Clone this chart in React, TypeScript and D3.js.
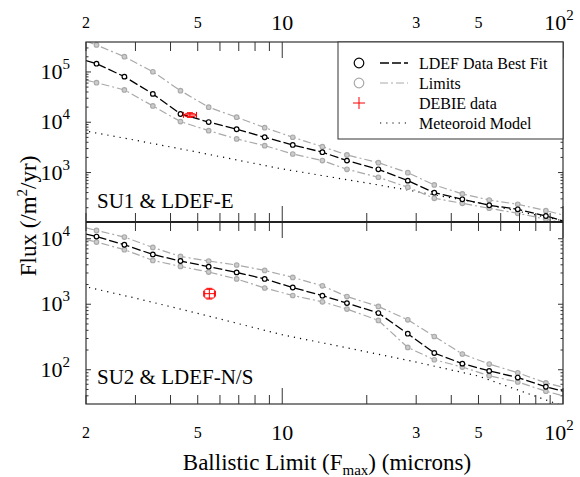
import * as d3 from 'd3';

// ballistic limit (microns) shared by both panels; first/last are the frame edges
const ballistic = [2, 2.18, 2.74, 3.46, 4.34, 5.47, 6.88, 8.66, 10.9, 13.9, 17.0, 22.0, 28.0, 34.8, 43.8, 54.6, 69.0, 86.9, 100];

const su1Fit = [1.68e5, 1.46e5, 8.07e4, 3.66e4, 1.46e4, 1.01e4, 7.26e3, 5.03e3, 3.54e3, 2.54e3, 1.73e3, 1.16e3, 690, 398, 294, 224, 186, 137, 109];
const su1Upper = [4.1e5, 3.44e5, 2.01e5, 1.01e5, 4.25e4, 1.99e4, 1.26e4, 7.81e3, 5.03e3, 3.27e3, 2.24e3, 1.57e3, 995, 567, 376, 285, 234, 175, 143];
const su1Lower = [6.9e4, 6.13e4, 4.39e4, 2.11e4, 1.03e4, 6.81e3, 4.66e3, 3.43e3, 2.34e3, 1.73e3, 1.16e3, 807, 511, 308, 245, 195, 155, 118, 100];

const su2Fit = [1.18e4, 1.08e4, 8.09e3, 5.75e3, 4.57e3, 3.74e3, 3.06e3, 2.43e3, 1.80e3, 1.35e3, 1.04e3, 734, 355, 180, 124, 96, 76, 55, 47];
const su2Upper = [1.46e4, 1.34e4, 1.06e4, 7.36e3, 5.37e3, 4.57e3, 3.97e3, 3.28e3, 2.57e3, 1.91e3, 1.31e3, 925, 579, 322, 174, 122, 90, 63, 54];
const su2Lower = [9.7e3, 8.9e3, 6.8e3, 4.67e3, 3.78e3, 3.1e3, 2.43e3, 1.77e3, 1.36e3, 1.09e3, 845, 566, 219, 142, 110, 81, 65, 47, 40];

// meteoroid model
const meteorX = [2.05, 3, 5, 10, 20, 30, 50, 100];
const su1Meteor = [6.5e3, 4.4e3, 2.54e3, 1.18e3, 621, 420, 250, 110];
const su2Meteor = [1.8e3, 1.24e3, 726, 342, 188, 131, 80, 28];

// DEBIE: [x, xlo, xhi, y, ylo, yhi]
const su1Debie = [4.69, 4.45, 4.95, 1.4e4, 1.25e4, 1.55e4];
const su2Debie = [5.5, 5.25, 5.78, 1.45e3, 1.2e3, 1.75e3];

const xTickLabels = [
  { v: 2, t: '2', big: false },
  { v: 5, t: '5', big: false },
  { v: 10, t: '10', big: true },
  { v: 30, t: '3', big: false },
  { v: 50, t: '5', big: false },
  { v: 100, t: '10', sup: '2', big: true },
];
const su1Decades = [1e3, 1e4, 1e5];
const su2Decades = [1e2, 1e3, 1e4];
const legendItems = ['LDEF Data Best Fit', 'Limits', 'DEBIE data', 'Meteoroid Model'];

const W = 580, H = 477;
const left = 86, right = 563, top = 42, mid = 222, bottom = 404;
const font = "'Liberation Serif', 'Times New Roman', 'DejaVu Serif', serif";
const gray = '#a9a9a9';

const x = d3.scaleLog().domain([2, 100]).range([left, right]);
const xMinor = d3.range(2, 10).concat(d3.range(20, 100, 10));

function Panel({ id, y, fit, upper, lower, meteor, debie, decades, label, labelY }: any) {
  const line = d3.line<number>().x((_, i) => x(ballistic[i])).y(d => y(d));
  const mline = d3.line<number>().x((_, i) => x(meteorX[i])).y(d => y(d));
  const [y0, y1] = y.range();
  const dom = y.domain();
  const minor: number[] = [];
  for (let e = Math.floor(Math.log10(dom[0])); e <= Math.ceil(Math.log10(dom[1])); e++) {
    for (let k = 2; k < 10; k++) {
      const v = k * Math.pow(10, e);
      if (v > dom[0] && v < dom[1]) minor.push(v);
    }
  }
  const inner = ballistic.slice(1, -1);
  const [dx, dxl, dxh, dy, dyl, dyh] = debie;
  return (
    <g>
      <defs>
        <clipPath id={id}>
          <rect x={left} y={y1} width={right - left} height={y0 - y1} />
        </clipPath>
      </defs>
      <g clipPath={`url(#${id})`}>
        <path d={mline(meteor) || ''} fill="none" stroke="#000" strokeWidth={1.2} strokeDasharray="1.2,5" />
        {[upper, lower].map((s, k) => (
          <g key={k}>
            <path d={line(s) || ''} fill="none" stroke={gray} strokeWidth={1.2} strokeDasharray="8,3,2,3" />
            {s.slice(1, -1).map((v: number, i: number) => (
              <circle key={i} cx={x(inner[i])} cy={y(v)} r={2.3} fill="#ccc" stroke={gray} strokeWidth={1.1} />
            ))}
          </g>
        ))}
        <path d={line(fit) || ''} fill="none" stroke="#000" strokeWidth={1.3} strokeDasharray="9,3" />
        {fit.slice(1, -1).map((v: number, i: number) => (
          <circle key={i} cx={x(inner[i])} cy={y(v)} r={2.3} fill="#fff" stroke="#000" strokeWidth={1.2} />
        ))}
      </g>
      {/* DEBIE point */}
      <g stroke="#ff0000" strokeWidth={1} fill="none">
        <rect x={x(dxl) + 1} y={y(dyh) + 1} width={x(dxh) - x(dxl) - 2} height={y(dyl) - y(dyh) - 2} rx={1} />
        <line x1={x(dxl)} x2={x(dxh)} y1={y(dy)} y2={y(dy)} />
        <line x1={x(dx)} x2={x(dx)} y1={y(dyh)} y2={y(dyl)} />
        <line x1={x(dxl)} x2={x(dxl)} y1={y(dy) - 3} y2={y(dy) + 3} />
        <line x1={x(dxh)} x2={x(dxh)} y1={y(dy) - 3} y2={y(dy) + 3} />
        <line x1={x(dx) - 3} x2={x(dx) + 3} y1={y(dyh)} y2={y(dyh)} />
        <line x1={x(dx) - 3} x2={x(dx) + 3} y1={y(dyl)} y2={y(dyl)} />
      </g>
      {/* y ticks, left and right */}
      <g stroke="#333" strokeWidth={1}>
        {decades.map((v: number) => (
          <g key={v}>
            <line x1={left} x2={left + 5} y1={y(v)} y2={y(v)} />
            <line x1={right} x2={right - 5} y1={y(v)} y2={y(v)} />
          </g>
        ))}
        {minor.map(v => (
          <g key={v}>
            <line x1={left} x2={left + 2.5} y1={y(v)} y2={y(v)} />
            <line x1={right} x2={right - 2.5} y1={y(v)} y2={y(v)} />
          </g>
        ))}
      </g>
      {decades.map((v: number) => (
        <text key={v} x={left - 16} y={y(v) + 7} textAnchor="end" style={{ fontFamily: font }} fontSize={22} fill="#000">
          10
          <tspan dy={-10} fontSize={15}>{Math.round(Math.log10(v))}</tspan>
        </text>
      ))}
      <text x={left + 11} y={labelY} style={{ fontFamily: font }} fontSize={21} fill="#000">{label}</text>
    </g>
  );
}

function XTicks({ y0, dir }: { y0: number; dir: number }) {
  return (
    <g stroke="#333" strokeWidth={1}>
      {xMinor.map(v => (
        <line key={v} x1={x(v)} x2={x(v)} y1={y0} y2={y0 + dir * 9} />
      ))}
      {[10, 100].map(v => (
        <line key={v} x1={x(v)} x2={x(v)} y1={y0} y2={y0 + dir * 16} />
      ))}
    </g>
  );
}

function XLabels({ yb }: { yb: number }) {
  return (
    <g style={{ fontFamily: font }} fill="#000">
      {xTickLabels.map(d => (
        <text key={d.v + d.t} x={x(d.v) + (d.sup ? -4 : 0)} y={d.big ? yb + 2 : yb} textAnchor="middle" fontSize={d.big ? 22 : 16}>
          {d.t}
          {d.sup && <tspan dy={-10} fontSize={15}>{d.sup}</tspan>}
        </text>
      ))}
    </g>
  );
}

export default function App() {
  const y1 = d3.scaleLog().domain([104, 3.94e5]).range([mid, top]);
  const y2 = d3.scaleLog().domain([30, 1.8e4]).range([bottom, mid]);
  const lx = 338, ly = 42, lw = right - 338, lh = 97;
  return (
    <svg width={W} height={H} style={{ position: 'absolute', left: 0, top: 0, background: '#fff', fontFamily: font }}>
      <Panel id="c1" y={y1} fit={su1Fit} upper={su1Upper} lower={su1Lower} meteor={su1Meteor} debie={su1Debie}
        decades={su1Decades} label="SU1 & LDEF-E" labelY={208} />
      <Panel id="c2" y={y2} fit={su2Fit} upper={su2Upper} lower={su2Lower} meteor={su2Meteor} debie={su2Debie}
        decades={su2Decades} label="SU2 & LDEF-N/S" labelY={384} />

      <XTicks y0={top} dir={1} />
      <XTicks y0={mid} dir={-1} />
      <XTicks y0={mid} dir={1} />
      <XTicks y0={bottom} dir={-1} />
      <XLabels yb={28} />
      <XLabels yb={438} />

      {/* frame */}
      <rect x={left} y={top} width={right - left} height={bottom - top} fill="none" stroke="#333" strokeWidth={1.2} />
      <line x1={left} x2={right} y1={mid} y2={mid} stroke="#222" strokeWidth={2} />

      {/* legend */}
      <rect x={lx} y={ly} width={lw} height={lh} fill="#fff" stroke="#333" strokeWidth={1} />
      {legendItems.map((t, i) => {
        const cy = ly + 21 + i * 20;
        return (
          <g key={t}>
            {i === 0 && <circle cx={359} cy={cy} r={4.8} fill="none" stroke="#000" strokeWidth={1.2} />}
            {i === 1 && <circle cx={359} cy={cy} r={4.8} fill="none" stroke={gray} strokeWidth={1.2} />}
            {i === 2 && (
              <g stroke="#ff0000" strokeWidth={1}>
                <line x1={353} x2={365} y1={cy} y2={cy} />
                <line x1={359} x2={359} y1={cy - 6} y2={cy + 6} />
              </g>
            )}
            {i === 0 && <line x1={380} x2={408} y1={cy} y2={cy} stroke="#000" strokeWidth={1.3} strokeDasharray="9,3" />}
            {i === 1 && <line x1={380} x2={408} y1={cy} y2={cy} stroke={gray} strokeWidth={1.2} strokeDasharray="8,3,2,3" />}
            {i === 3 && <line x1={380} x2={408} y1={cy} y2={cy} stroke="#000" strokeWidth={1.2} strokeDasharray="1.2,5" />}
            <text x={419} y={cy + 5.5} style={{ fontFamily: font }} fontSize={16} fill="#000">{t}</text>
          </g>
        );
      })}

      {/* axis titles */}
      <text transform="translate(36,216) rotate(-90)" textAnchor="middle" style={{ fontFamily: font }} fontSize={23} fill="#000">
        Flux (/m<tspan dy={-9} fontSize={15}>2</tspan><tspan dy={9}>/yr)</tspan>
      </text>
      <text x={327} y={470} textAnchor="middle" style={{ fontFamily: font }} fontSize={23} fill="#000">
        Ballistic Limit (F<tspan dy={5} fontSize={15}>max</tspan><tspan dy={-5}>) (microns)</tspan>
      </text>
    </svg>
  );
}
